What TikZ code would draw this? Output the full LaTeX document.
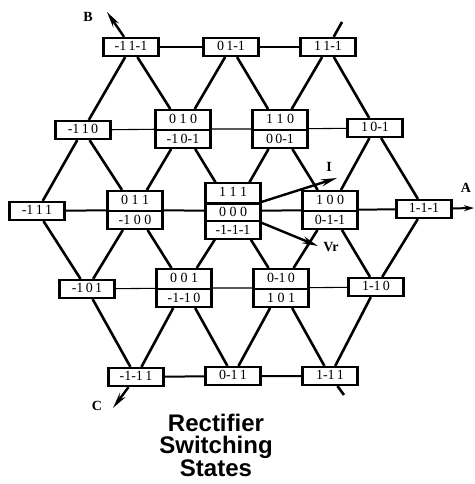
\documentclass[tikz,border=0pt]{standalone}
\usepackage{fontspec}
\setmainfont{Liberation Serif}
\newfontfamily\titlefont{Liberation Sans}
\usetikzlibrary{shapes.multipart,arrows.meta}
\begin{document}
\begin{tikzpicture}[x=1pt,y=-1pt,
  box/.style={draw,line width=2.2pt,fill=white,minimum width=55pt,inner xsep=2pt,inner ysep=3pt,text height=9.5pt,text depth=2.5pt,font=\fontsize{14}{14}\selectfont},
  sbox/.style={box,rectangle split,rectangle split parts=2},
  tbox/.style={box,rectangle split,rectangle split parts=3},
  diag/.style={line width=2.6pt},
  hthick/.style={line width=2pt},
  hthin/.style={line width=1.1pt},
  arr/.style={line width=2.4pt,-{Stealth[length=16pt,width=7pt]}},
  arrs/.style={line width=2pt,-{Stealth[length=10pt,width=6pt]}},
  lab/.style={font=\fontsize{14}{14}\selectfont\bfseries},
]
\useasboundingbox (0,0) rectangle (474,484);
% nodes
\node[box] (a1) at (131,47) {-1\,1-1};
\node[box] (a2) at (231,47) {0\,1-1};
\node[box] (a3) at (328,47) {1\,1-1};
\node[box] (b1) at (83,130) {-1\,1\,0};
\node[sbox] (b2) at (183,129) {0 1 0\nodepart{two}-1\,0-1};
\node[sbox] (b3) at (280,129) {1 1 0\nodepart{two}0\,0-1};
\node[box] (b4) at (375,128) {1\,0-1};
\node[box] (c1) at (37,211) {-1\,1\,1};
\node[sbox] (c2) at (135,210) {0 1 1\nodepart{two}-1 0 0};
\node[tbox] (c3) at (233,211) {1 1 1\nodepart{two}0 0 0\nodepart{three}-1-1-1};
\node[sbox] (c4) at (330,210) {1 0 0\nodepart{two}0-1-1};
\node[box] (c5) at (424,209) {1-1-1};
\node[box] (d1) at (87,289) {-1\,0\,1};
\node[sbox] (d2) at (184,288) {0 0 1\nodepart{two}-1-1\,0};
\node[sbox] (d3) at (281,288) {0-1\,0\nodepart{two}1 0 1};
\node[box] (d4) at (376,287) {1-1\,0};
\node[box] (e1) at (136,377) {-1-1\,1};
\node[box] (e2) at (233,376) {0-1\,1};
\node[box] (e3) at (330,376) {1-1\,1};
% horizontal lines
\draw[hthick] (a1)--(a2) (a2)--(a3);
\draw[hthin] (b1)--(b2) (b2)--(b3) (b3)--(b4);
\draw[hthick] (c1)--(c2) (c2)--(c3) (c3)--(c4) (c4)--(c5);
\draw[hthin] (d1)--(d2) (d2)--(d3) (d3)--(d4);
\draw[hthick] (e1)--(e2) (e2)--(e3);
% diagonals
\draw[diag] (a1)--(b1) (a1)--(b2) (a2)--(b2) (a2)--(b3) (a3)--(b3) (a3)--(b4);
\draw[diag] (b1)--(c1) (b1)--(c2) (b2)--(c2) (b2)--(c3) (b3)--(c3) (b3)--(c4) (b4)--(c4) (b4)--(c5);
\draw[diag] (c1)--(d1) (c2)--(d1) (c2)--(d2) (c3)--(d2) (c3)--(d3) (c4)--(d3) (c4)--(d4) (c5)--(d4);
\draw[diag] (d1)--(e1) (d2)--(e1) (d2)--(e2) (d3)--(e2) (d3)--(e3) (d4)--(e3);
% axes
\coordinate (Bt) at (107,12);
\coordinate (Ct) at (113,408);
\coordinate (At) at (474,208);
\coordinate (Tt) at (342,22);
\coordinate (Tb) at (344,395);
\draw[arr] (a1) -- (Bt);
\draw[arr] (e1) -- (Ct);
\draw[arrs] (c5) -- (At);
\draw[diag] (a3) -- (Tt);
\draw[diag] (e3) -- (Tb);
% I and Vr
\coordinate (It) at (337,178);
\coordinate (Vt) at (318,246);
\draw[arr] (c3) -- (It);
\draw[arr] (c3) -- (Vt);
% labels
\node[lab] (B) at (88,17) {B};
\node[lab] (C) at (97,406) {C};
\node[lab] (A) at (466,188) {A};
\node[lab] (I) at (329,167) {I};
\node[lab] (Vr) at (331,247) {Vr};
\node[font=\titlefont\bfseries\fontsize{24}{22.5}\selectfont,align=center,anchor=base,inner sep=0pt] (title) at (216,476) {Rectifier\\Switching\\States};
\end{tikzpicture}
\end{document}
